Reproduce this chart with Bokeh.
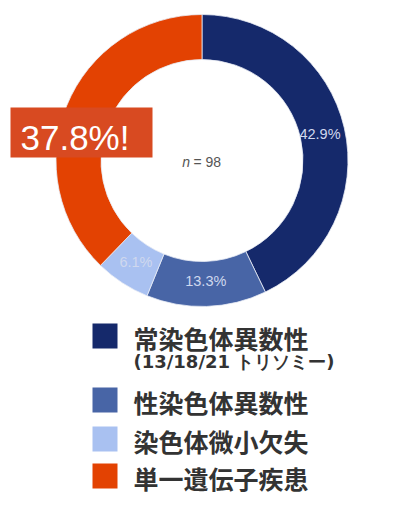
import math
from bokeh.plotting import figure
from bokeh.models import Range1d, ColumnDataSource
from bokeh.core.properties import value
from bokeh.embed import file_html
from bokeh.resources import INLINE

# ---- data ----
categories = ["常染色体異数性", "性染色体異数性", "染色体微小欠失", "単一遺伝子疾患"]
category_sub = ["(13/18/21 トリソミー)", "", "", ""]
percentages = [42.9, 13.3, 6.1, 37.8]
ring_labels = ["42.9%", "13.3%", "6.1%", ""]
colors = ["#15296b", "#4865a6", "#a9c1f1", "#e34202"]
n_total = 98
callout = "37.8%!"

W, H = 409, 510
def Y(py):
    return H - py

p = figure(width=393, height=494, output_backend="svg", toolbar_location=None,
           x_range=Range1d(0, 393), y_range=Range1d(16, 510), min_border=0,
           outline_line_color=None)
p.axis.visible = False
p.grid.visible = False
p.background_fill_color = "white"

cx, cy = 201.5, Y(160)
r_in, r_out = 101, 146
total = sum(percentages)
starts, ends, lx, ly = [], [], [], []
cum = 0.0
for v in percentages:
    a0 = math.pi / 2 - 2 * math.pi * cum / total
    cum += v
    a1 = math.pi / 2 - 2 * math.pi * cum / total
    starts.append(a0)
    ends.append(a1)
    mid = (a0 + a1) / 2
    lx.append(cx + 121 * math.cos(mid))
    ly.append(cy + 121 * math.sin(mid))

src = ColumnDataSource(dict(start=starts, end=ends, color=colors, lx=lx, ly=ly, lab=ring_labels))
p.annular_wedge(x=cx, y=cy, inner_radius=r_in, outer_radius=r_out,
                start_angle="start", end_angle="end", direction="clock",
                fill_color="color", line_color="#e8ecf5", line_width=0.8, source=src)

p.text(x="lx", y="ly", text="lab", source=src, text_align="center", text_baseline="middle",
       text_color="#cfd8ee", text_font=value("Liberation Sans"), text_font_size="14.5px")

# center n = 98
p.text(x=[189.5], y=[Y(161)], text=["n"], text_align="right", text_baseline="middle",
       text_color="#555555", text_font=value("Liberation Sans"), text_font_size="14px",
       text_font_style="italic")
p.text(x=[193], y=[Y(161)], text=[f"= {n_total}"], text_align="left", text_baseline="middle",
       text_color="#555555", text_font=value("Liberation Sans"), text_font_size="14px")

# callout box
p.quad(left=[10], right=[152], top=[Y(107)], bottom=[Y(157)], fill_color="#d84a21",
       line_color=None)
p.text(x=[20], y=[Y(137)], text=[callout], text_align="left", text_baseline="alphabetic",
       text_color="white", text_font=value("Liberation Sans"), text_font_size="35px")

# legend
sq_y = [335.5, 399.5, 438.5, 475.5]
txt_y = [337, 401, 440, 477]
p.rect(x=[104.5] * 4, y=[Y(v) for v in sq_y], width=25, height=25,
       fill_color=colors, line_color=None)
p.text(x=[133] * 4, y=[Y(v) for v in txt_y], text=categories, text_align="left",
       text_baseline="middle", text_color="#333333", text_font=value("Noto Sans CJK JP"),
       text_font_size="25px", text_font_style="bold")
p.text(x=[133], y=[Y(361)], text=[category_sub[0]], text_align="left",
       text_baseline="middle", text_color="#333333",
       text_font=value("DejaVu Sans"),
       text_font_size="18px", text_font_style="bold")

open("out.html", "w").write(file_html(p, INLINE))
